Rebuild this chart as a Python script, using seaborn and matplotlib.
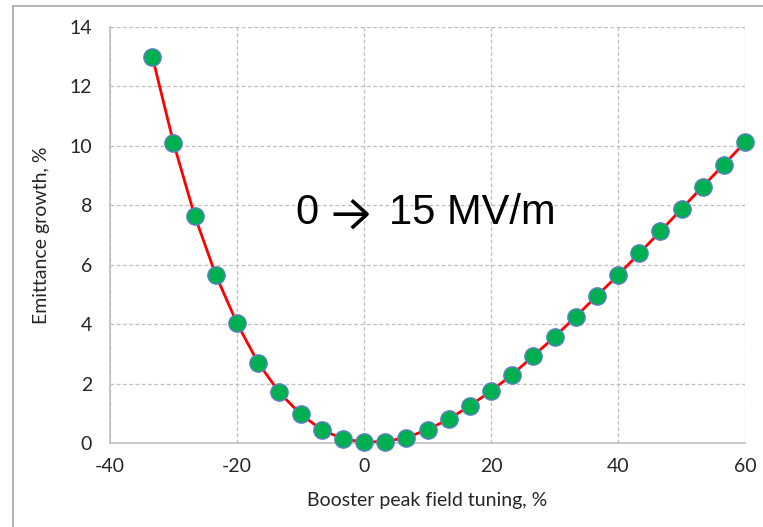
import matplotlib
matplotlib.use("Agg")
import matplotlib.pyplot as plt
import seaborn as sns
import pandas as pd
from matplotlib.patches import Rectangle

tuning = [-33.33, -30.0, -26.67, -23.33, -20.0, -16.67, -13.33, -10.0, -6.67, -3.33,
          0.0, 3.33, 6.67, 10.0, 13.33, 16.67, 20.0, 23.33, 26.67, 30.0, 33.33,
          36.67, 40.0, 43.33, 46.67, 50.0, 53.33, 56.67, 60.0]
growth = [13.0, 10.1, 7.65, 5.65, 4.03, 2.70, 1.70, 0.97, 0.45, 0.14,
          0.03, 0.05, 0.18, 0.45, 0.80, 1.25, 1.75, 2.30, 2.93, 3.57, 4.25,
          4.95, 5.65, 6.38, 7.12, 7.88, 8.63, 9.37, 10.12]
xticks = [-40, -20, 0, 20, 40, 60]
yticks = [0, 2, 4, 6, 8, 10, 12, 14]

df = pd.DataFrame({"tuning": tuning, "growth": growth})

sns.set_theme(style="white")
plt.rcParams['font.family'] = ['Lato', 'DejaVu Sans']

fig = plt.figure(figsize=(7.63, 5.27), dpi=100)
ax = fig.add_axes([110/763, 1-443/527, (745-110)/763, (443-27)/527])

# outer frame
fig.patches.append(Rectangle((13/763, -0.1), 2.0, 1-6/527+0.1, transform=fig.transFigure,
                             fill=False, edgecolor='#a6a6a6', linewidth=1.2))

sns.lineplot(data=df, x="tuning", y="growth", ax=ax, color='#ff0000', linewidth=2.0,
             zorder=3)
sns.scatterplot(data=df, x="tuning", y="growth", ax=ax, color='#00b050', s=155,
                edgecolor='#5b7fc7', linewidth=1.0, zorder=4, clip_on=False)

ax.set_xlim(-40, 60)
ax.set_ylim(0, 14)
ax.set_xticks(xticks)
ax.set_yticks(yticks)
ax.set_xticklabels([str(t) for t in xticks], fontsize=14)
ax.set_yticklabels([str(t) for t in yticks], fontsize=14)
ax.tick_params(axis='x', pad=11, length=0)
ax.tick_params(axis='y', pad=13, length=0)

ax.grid(True, linestyle=(0, (3, 2)), color='#bfbfbf', linewidth=0.9)
for s in ['top', 'right']:
    ax.spines[s].set_visible(False)
for s in ['left', 'bottom']:
    ax.spines[s].set_color('#bfbfbf')
    ax.spines[s].set_linewidth(1.2)

ax.set_xlabel("Booster peak field tuning, %", fontsize=14, labelpad=12)
ax.set_ylabel("Emittance growth, %", fontsize=14, labelpad=14)

ty = 7.75
ax.text(-10.8, ty, "0", fontsize=30, ha='left', va='center',
        family=['Liberation Sans', 'DejaVu Sans'], color='black')
ax.annotate("", xy=(0.9, ty - 0.05), xytext=(-4.8, ty - 0.05),
            arrowprops=dict(arrowstyle="->, head_length=0.55, head_width=0.5",
                            lw=2.6, color='black', mutation_scale=20,
                            shrinkA=0, shrinkB=0, capstyle='butt'))
ax.text(3.9, ty, "15 MV/m", fontsize=30, ha='left', va='center',
        family=['Liberation Sans', 'DejaVu Sans'], color='black')

fig.savefig("out.png", dpi=100)
